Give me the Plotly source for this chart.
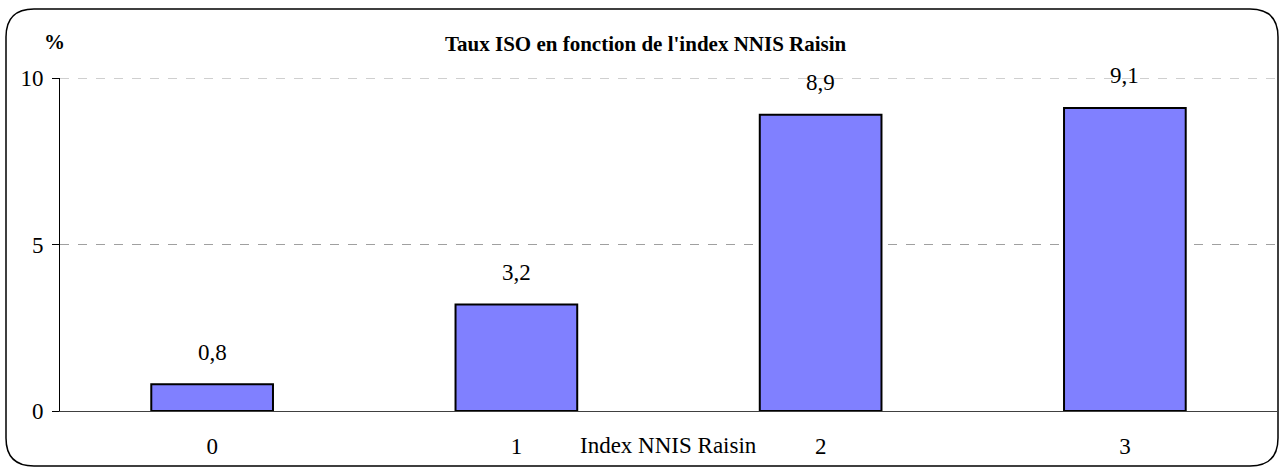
import plotly.graph_objects as go

categories = ["0", "1", "2", "3"]
values = [0.8, 3.2, 8.9, 9.1]
y_ticks = [0, 5, 10]

W, H = 1282, 470
L, R, T, B = 60, 5, 78, 59
pw, ph = W - L - R, H - T - B

def px(x):
    return (x - L) / pw

def py(y):
    return (H - B - y) / ph

font_family = "Liberation Serif, Times New Roman, serif"
FS = 23

fig = go.Figure()
fig.add_trace(go.Bar(
    x=categories, y=values,
    marker=dict(color="#8080FF", line=dict(color="black", width=2)),
    width=0.4,
))

for c, v in zip(categories, values):
    fig.add_annotation(x=c, y=v, text=f"{v:.1f}".replace(".", ","), showarrow=False,
                       yshift=32, yanchor="middle", xanchor="center",
                       font=dict(family=font_family, size=FS, color="black"))

# dashed gridlines (drawn as shapes so the top one at the plot edge is visible)
for t in y_ticks[1:]:
    fig.add_shape(type="line", xref="paper", yref="y", x0=0, x1=1, y0=t, y1=t,
                  line=dict(color="#A0A0A0", width=1, dash="dash"), layer="below")

# title and axis labels
fig.add_annotation(xref="paper", yref="paper", x=px(646), y=py(44), yanchor="middle", xanchor="center",
                   text="<b>Taux ISO en fonction de l'index NNIS Raisin</b>", showarrow=False,
                   font=dict(family=font_family, size=21, color="black"))
fig.add_annotation(xref="paper", yref="paper", x=px(54), y=py(42), yanchor="middle", xanchor="center",
                   text="<b>%</b>", showarrow=False,
                   font=dict(family=font_family, size=21, color="black"))
fig.add_annotation(xref="paper", yref="paper", x=px(668), y=py(445), yanchor="middle", xanchor="center",
                   text="Index NNIS Raisin", showarrow=False,
                   font=dict(family=font_family, size=FS, color="black"))

# rounded border
x0, y0, x1, y1, r = 6, 9, 1278, 466, 28
path = (f"M {px(x0+r)},{py(y0)} L {px(x1-r)},{py(y0)} Q {px(x1)},{py(y0)} {px(x1)},{py(y0+r)} "
        f"L {px(x1)},{py(y1-r)} Q {px(x1)},{py(y1)} {px(x1-r)},{py(y1)} "
        f"L {px(x0+r)},{py(y1)} Q {px(x0)},{py(y1)} {px(x0)},{py(y1-r)} "
        f"L {px(x0)},{py(y0+r)} Q {px(x0)},{py(y0)} {px(x0+r)},{py(y0)} Z")
fig.add_shape(type="path", xref="paper", yref="paper", path=path,
              line=dict(color="black", width=1.5), layer="above")

fig.update_layout(
    width=W, height=H,
    margin=dict(l=L, r=R, t=T, b=B),
    paper_bgcolor="white", plot_bgcolor="white",
    showlegend=False,
    font=dict(family=font_family, size=FS, color="black"),
    xaxis=dict(showline=True, linecolor="#404040", linewidth=1, ticks="",
               ticklabelstandoff=14, tickfont=dict(size=FS), showgrid=False,
               zeroline=False),
    yaxis=dict(range=[0, 10], tickvals=y_ticks, ticks="outside", ticklen=7,
               tickcolor="black", showline=True, linecolor="black", linewidth=1,
               showgrid=False, ticklabelstandoff=4, zeroline=False,
               tickfont=dict(size=FS)),
)

fig.write_html("out.html", config={"displayModeBar": False},
               post_script="document.body.style.margin='0';")
